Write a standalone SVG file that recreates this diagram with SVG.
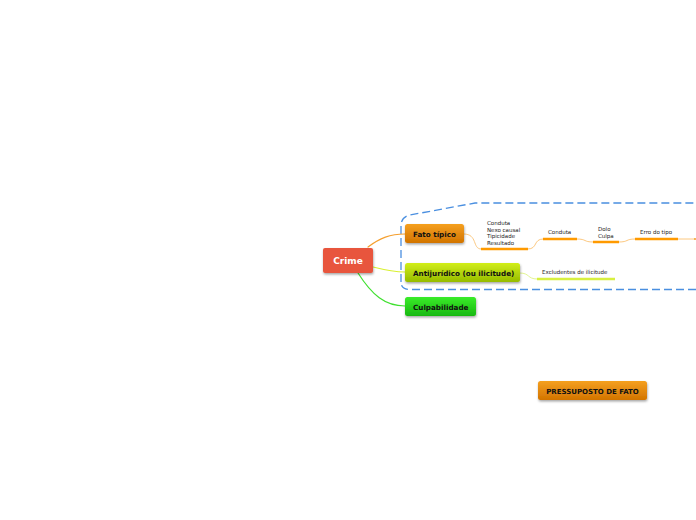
<svg xmlns="http://www.w3.org/2000/svg" width="696" height="520" viewBox="0 0 696 520">
<defs>
<linearGradient id="gOrange" x1="0" y1="0" x2="0" y2="1"><stop offset="0" stop-color="#f5a020"/><stop offset="1" stop-color="#d27400"/></linearGradient>
<linearGradient id="gYellow" x1="0" y1="0" x2="0" y2="1"><stop offset="0" stop-color="#d2ee1a"/><stop offset="1" stop-color="#96bc00"/></linearGradient>
<linearGradient id="gGreen" x1="0" y1="0" x2="0" y2="1"><stop offset="0" stop-color="#3aec2a"/><stop offset="1" stop-color="#18b810"/></linearGradient>
<filter id="sh" x="-20%" y="-30%" width="140%" height="170%"><feDropShadow dx="0.5" dy="1.5" stdDeviation="1" flood-color="#000" flood-opacity="0.35"/></filter>
</defs>
<style>
.node text{font-family:"DejaVu Sans",Verdana,sans-serif;font-weight:bold;font-size:7.2px;fill:#111}
.sub{font-family:"DejaVu Sans",Verdana,sans-serif;font-size:5.5px;fill:#222}
.c{fill:none;stroke-linecap:round}
</style>
<rect width="696" height="520" fill="#fff"/>
<g id="boundary">
<path d="M401,282 L401,226 Q401,217 410,215 L475,203 L696,203" fill="none" stroke="#4a8fe0" stroke-width="1.3" stroke-dasharray="8,4"/>
<path d="M696,289.5 L410,289.5 Q401,289.5 401,282" fill="none" stroke="#4a8fe0" stroke-width="1.3" stroke-dasharray="8,4"/>
</g>
<g id="connectors">
<path class="c" d="M368,247 C380,238 390,234 405,234" stroke="#f5a030" stroke-width="1.2"/>
<path class="c" d="M373,267 C385,270 393,272 405,272" stroke="#d8f030" stroke-width="1.2"/>
<path class="c" d="M358,273 C372,295 385,306 405,306" stroke="#40e030" stroke-width="1.2"/>
<path class="c" d="M464,234 C478,234 472,249 481,249" stroke="#fcc880" stroke-width="1"/>
<path class="c" d="M528,249 C538,249 533,239 543,239" stroke="#fcc880" stroke-width="1"/>
<path class="c" d="M577,239 C587,239 583,242 593,242" stroke="#fcc880" stroke-width="1"/>
<path class="c" d="M619,242 C629,242 625,239 635,239" stroke="#fcc880" stroke-width="1"/>
<path class="c" d="M678,239 L695,239" stroke="#fcc880" stroke-width="1"/>
<circle cx="695" cy="239" r="1" fill="#f5a030"/>
<path class="c" d="M520,273 C530,273 527,279 537,279" stroke="#e2f590" stroke-width="1"/>
<g stroke-width="2.5" fill="none">
<line x1="481" y1="249" x2="528" y2="249" stroke="#ff9a00"/>
<line x1="543" y1="239" x2="577" y2="239" stroke="#ff9a00"/>
<line x1="593" y1="242" x2="619" y2="242" stroke="#ff9a00"/>
<line x1="635" y1="239" x2="678" y2="239" stroke="#ff9a00"/>
<line x1="537" y1="279" x2="615" y2="279" stroke="#d8f040"/>
</g>
</g>
<g id="crime" class="node"><rect x="323" y="248" width="50" height="25" rx="2" fill="#e8553d" filter="url(#sh)"/><text x="348" y="264" text-anchor="middle" style="fill:#fff;font-size:9px">Crime</text></g>
<g id="fato" class="node"><rect x="405" y="224" width="59" height="19" rx="2.5" fill="url(#gOrange)" filter="url(#sh)"/><text x="413" y="236.5">Fato típico</text></g>
<g id="anti" class="node"><rect x="405" y="263" width="115" height="19" rx="2.5" fill="url(#gYellow)" filter="url(#sh)"/><text x="413" y="275.5">Antijurídico (ou ilicitude)</text></g>
<g id="culp" class="node"><rect x="405" y="297" width="71" height="19" rx="2.5" fill="url(#gGreen)" filter="url(#sh)"/><text x="413" y="309.5">Culpabilidade</text></g>
<g id="pressuposto" class="node"><rect x="538" y="381" width="109" height="19" rx="2.5" fill="url(#gOrange)" filter="url(#sh)"/><text x="592.5" y="393.5" text-anchor="middle" style="font-size:7px">PRESSUPOSTO DE FATO</text></g>
<g id="t1"><text class="sub" x="487" y="225">Conduta</text><text class="sub" x="487" y="231.5">Nexo causal</text><text class="sub" x="487" y="238">Tipicidade</text><text class="sub" x="487" y="244.5">Resultado</text></g>
<g id="t2"><text class="sub" x="548" y="234">Conduta</text></g>
<g id="t3"><text class="sub" x="598" y="231">Dolo</text><text class="sub" x="598" y="238">Culpa</text></g>
<g id="t4"><text class="sub" x="640" y="234">Erro do tipo</text></g>
<g id="t5"><text class="sub" x="542" y="274">Excludentes de ilicitude</text></g>
</svg>
